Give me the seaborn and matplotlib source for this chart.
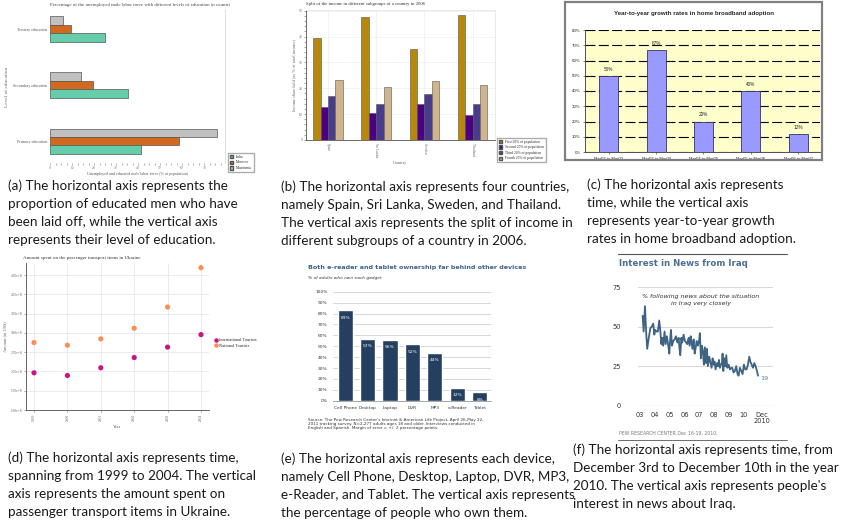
import numpy as np
import pandas as pd
import matplotlib
matplotlib.use("Agg")
import matplotlib.pyplot as plt
import seaborn as sns
from matplotlib.patches import Patch, Rectangle
from matplotlib.lines import Line2D

sns.set_style("white")
plt.rcParams["font.family"] = ["DejaVu Sans"]

W, H = 863, 520

# ---- (a) unemployed educated male labor force
edu_levels = ["Tertiary education", "Secondary education", "Primary education"]
india = [25.0, 35.6, 41.2]
morocco = [9.4, 19.4, 58.8]
mauritania = [5.7, 14.0, 75.8]

# ---- (b) income split
countries = ["Spain", "Sri Lanka", "Sweden", "Thailand"]
income_groups = ["First 20% of population", "Second 20% of population",
                 "Third 20% of population", "Fourth 20% of population"]
first20 = [39.6, 47.4, 35.4, 48.2]
second20 = [12.6, 10.3, 14.0, 9.5]
third20 = [17.1, 14.0, 17.7, 14.0]
fourth20 = [23.1, 20.4, 22.8, 21.1]

# ---- (c) broadband growth
periods = ["Mar02 to Mar03", "Mar03 to Mar04", "Mar04 to Mar05",
           "Mar05 to Mar06", "Mar06 to Mar07"]
growth = [50, 67, 20, 40, 12]

# ---- (d) Ukraine passenger transport
years_d = ["1999", "2000", "2001", "2002", "2003", "2004"]
intl_tourists = [1.965e8, 1.895e8, 2.095e8, 2.36e8, 2.63e8, 2.955e8]
natl_tourists = [2.75e8, 2.68e8, 2.845e8, 3.12e8, 3.67e8, 4.69e8]
d_ticks = [1.0e8, 1.5e8, 2.0e8, 2.5e8, 3.0e8, 3.5e8, 4.0e8, 4.5e8]
d_ticklabels = ["1.00e+8", "1.50e+8", "2.00e+8", "2.50e+8",
                "3.00e+8", "3.50e+8", "4.00e+8", "4.50e+8"]

# ---- (e) device ownership
devices = ["Cell Phone", "Desktop", "Laptop", "DVR", "MP3", "e-Reader", "Tablet"]
ownership = [83, 57, 56, 52, 44, 12, 8]

# ---- (f) interest in news from Iraq
iraq_time = [2003.18, 2003.25, 2003.34, 2003.43, 2003.49, 2003.58, 2003.70, 2003.79,
             2003.90, 2003.97, 2004.03, 2004.12, 2004.21, 2004.30, 2004.37, 2004.44,
             2004.51, 2004.57, 2004.66, 2004.73, 2004.82, 2004.91, 2004.98, 2005.04,
             2005.09, 2005.16, 2005.25, 2005.34, 2005.43, 2005.52, 2005.61, 2005.67,
             2005.72, 2005.79, 2005.85, 2005.94, 2006.03, 2006.12, 2006.19, 2006.28,
             2006.35, 2006.42, 2006.48, 2006.55, 2006.62, 2006.69, 2006.75, 2006.82,
             2006.91, 2007.00, 2007.04, 2007.11, 2007.18, 2007.25, 2007.31, 2007.38,
             2007.45, 2007.52, 2007.58, 2007.67, 2007.74, 2007.83, 2007.90, 2007.97,
             2008.03, 2008.10, 2008.19, 2008.26, 2008.33, 2008.39, 2008.46, 2008.53,
             2008.57, 2008.62, 2008.69, 2008.75, 2008.82, 2008.89, 2008.98, 2009.07,
             2009.16, 2009.22, 2009.31, 2009.40, 2009.49, 2009.58, 2009.65, 2009.74,
             2009.83, 2009.92, 2010.01, 2010.10, 2010.19, 2010.28, 2010.37, 2010.44,
             2010.53, 2010.62, 2010.71, 2010.80, 2010.89, 2010.96]
iraq_pct = [57, 47, 63, 45, 36, 42, 49, 50, 52, 45, 48, 47, 47, 54, 48, 39,
            43, 38, 47, 39, 44, 38, 33, 42, 48, 38, 41, 42, 44, 40, 43, 36,
            32, 43, 40, 45, 41, 40, 39, 43, 38, 44, 40, 36, 42, 33, 36, 41,
            38, 42, 46, 30, 38, 34, 26, 37, 27, 36, 25, 31, 28, 24, 30, 26,
            28, 23, 27, 25, 29, 24, 26, 27, 33, 22, 30, 25, 32, 24, 26, 23,
            24, 24, 21, 22, 25, 20, 19, 24, 22, 20, 26, 23, 23, 26, 31, 28,
            26, 24, 27, 25, 22, 19]
iraq_years = ["03", "04", "05", "06", "07", "08", "09", "10"]

captions = {
    "a": "(a) The horizontal axis represents the\nproportion of educated men who have\n"
         "been laid off, while the vertical axis\nrepresents their level of education.",
    "b": "(b) The horizontal axis represents four countries,\nnamely Spain, Sri Lanka, Sweden, and Thailand.\n"
         "The vertical axis represents the split of income in\ndifferent subgroups of a country in 2006.",
    "c": "(c) The horizontal axis represents\ntime, while the vertical axis\n"
         "represents year-to-year growth\nrates in home broadband adoption.",
    "d": "(d) The horizontal axis represents time,\nspanning from 1999 to 2004. The vertical\n"
         "axis represents the amount spent on\npassenger transport items in Ukraine.",
    "e": "(e) The horizontal axis represents each device,\nnamely Cell Phone, Desktop, Laptop, DVR, MP3,\n"
         "e-Reader, and Tablet. The vertical axis represents\nthe percentage of people who own them.",
    "f": "(f) The horizontal axis represents time, from\nDecember 3rd to December 10th in the year\n"
         "2010. The vertical axis represents people's\ninterest in news about Iraq.",
}


def box(x0, y0, x1, y1):
    return [x0 / W, 1 - y1 / H, (x1 - x0) / W, (y1 - y0) / H]


fig = plt.figure(figsize=(W / 100, H / 100), dpi=100)


def ftext(x, y, s, **kw):
    fig.text(x / W, 1 - y / H, s, **kw)


serif = ["Liberation Serif", "DejaVu Serif"]
arial = ["Liberation Sans", "DejaVu Sans"]

# ================= (a) =================
teal, orange, silver = "#66CDAA", "#D2691E", "#C0C0C0"
ax = fig.add_axes(box(50, 10, 225, 163))
df_a = pd.DataFrame({
    "level": edu_levels * 3,
    "pct": mauritania + morocco + india,
    "country": ["Mauritania"] * 3 + ["Morocco"] * 3 + ["India"] * 3,
})
sns.barplot(data=df_a, x="pct", y="level", hue="country",
            hue_order=["Mauritania", "Morocco", "India"],
            palette=[silver, orange, teal], orient="h", width=0.45,
            saturation=1, edgecolor="#555555", linewidth=0.5, ax=ax, legend=False)
ax.set_xlim(0, 79.5)
ax.set_ylim(2.39, -0.34)
for s in ["top", "left", "bottom"]:
    ax.spines[s].set_visible(False)
ax.spines["right"].set_color("#e0e0e0")
ax.set_xticks(range(0, 80, 10))
ax.set_xticks(np.arange(0, 80, 2.5), minor=True)
ax.tick_params(axis="x", which="both", labelsize=2.6, length=1.5, width=0.4,
               pad=1, colors="#777777", bottom=True)
ax.tick_params(axis="y", labelsize=3, length=0, pad=2, colors="#555555")
for t in ax.get_xticklabels() + ax.get_yticklabels():
    t.set_family(serif)
ax.set_xlabel("Unemployed and educated male labor force (% of population)",
              fontsize=3, family=serif, color="#555555", labelpad=1)
ax.set_ylabel("Level of education", fontsize=3.8, family=serif, color="#666666",
              labelpad=3)
ftext(50, 5, "Percentage of the unemployed male labor force with different levels of education in countri",
      fontsize=3.5, family=serif, color="#444444", va="center")
fig.legend(handles=[Patch(facecolor=teal, edgecolor="#555"),
                    Patch(facecolor=orange, edgecolor="#555"),
                    Patch(facecolor=silver, edgecolor="#555")],
           labels=["India", "Morocco", "Mauritania"],
           loc="upper left", bbox_to_anchor=(226 / W, 1 - 151 / H),
           frameon=True, fancybox=False, edgecolor="#999999",
           handlelength=1.0, handleheight=1.0, borderpad=0.5, labelspacing=0.5,
           prop={"family": serif, "size": 2.6})

# ================= (b) =================
gold, indigo, slate, tan = "#B8860B", "#4B0082", "#483D8B", "#D2B48C"
ax = fig.add_axes(box(306, 10, 495, 140))
df_b = pd.DataFrame({
    "country": countries * 4,
    "share": first20 + second20 + third20 + fourth20,
    "group": [g for g in income_groups for _ in countries],
})
sns.barplot(data=df_b, x="country", y="share", hue="group",
            hue_order=income_groups, palette=[gold, indigo, slate, tan],
            saturation=1, width=0.61, edgecolor="#555555", linewidth=0.4,
            ax=ax, legend=False)
ax.set_xlim(-0.456, 3.466)
ax.set_ylim(0, 50.3)
ax.set_yticks(range(0, 51, 10))
ax.set_yticks(range(0, 51, 2), minor=True)
ax.grid(axis="both", color="#eeeeee", lw=0.5)
ax.set_axisbelow(True)
for s in ["top", "right"]:
    ax.spines[s].set_color("#e6e6e6")
    ax.spines[s].set_linewidth(0.6)
for s in ["left", "bottom"]:
    ax.spines[s].set_color("#555555")
    ax.spines[s].set_linewidth(0.6)
ax.tick_params(axis="y", which="both", labelsize=2.6, length=1.5, width=0.4,
               pad=1, colors="#666666", left=True)
ax.tick_params(axis="x", labelsize=2.6, length=0, pad=2, colors="#666666",
               labelrotation=-90)
for t in ax.get_xticklabels() + ax.get_yticklabels():
    t.set_family(serif)
ax.set_xlabel("Country", fontsize=3.2, family=serif, color="#666666", labelpad=3)
ax.set_ylabel("Income share held (as % of total income)", fontsize=3.2,
              family=serif, color="#666666", labelpad=2)
ftext(306, 4, "Split of the income in different subgroups of a country in 2006",
      fontsize=3.4, family=serif, color="#333333", va="center")
fig.legend(handles=[Patch(facecolor=c, edgecolor="#555") for c in [gold, indigo, slate, tan]],
           labels=income_groups, loc="upper left",
           bbox_to_anchor=(495 / W, 1 - 136 / H), frameon=True, fancybox=False,
           edgecolor="#999999", handlelength=1.0, handleheight=1.0,
           borderpad=0.5, labelspacing=0.45, prop={"family": serif, "size": 2.6})

# ================= (c) =================
fig.patches.append(Rectangle((565 / W, 1 - 160 / H), 257 / W, 158 / H,
                             transform=fig.transFigure, fill=False,
                             edgecolor="#808080", lw=1.6))
ax = fig.add_axes(box(585, 30, 820, 152))
ax.set_facecolor("#FFFFCC")
df_c = pd.DataFrame({"period": periods, "growth": growth})
sns.barplot(data=df_c, x="period", y="growth", color="#9999FF", width=0.4,
            edgecolor="#333366", linewidth=0.6, saturation=1, ax=ax)
ax.set_xlim(-0.5, 4.46)
ax.set_ylim(0, 80)
ax.set_yticks(range(0, 81, 10))
ax.set_yticklabels([f"{v}%" for v in range(0, 81, 10)])
ax.grid(axis="y", color="black", lw=0.8, linestyle=(0, (9, 3)))
ax.set_axisbelow(True)
for s in ["top", "right"]:
    ax.spines[s].set_visible(False)
for s in ["left", "bottom"]:
    ax.spines[s].set_color("#333333")
    ax.spines[s].set_linewidth(0.6)
ax.tick_params(axis="y", labelsize=3.2, length=1.5, width=0.4, pad=1.5, left=True)
ax.tick_params(axis="x", labelsize=3.0, length=1.5, width=0.4, pad=2, bottom=True)
for t in ax.get_xticklabels() + ax.get_yticklabels():
    t.set_family(arial)
ax.set_xlabel("")
ax.set_ylabel("")
ax.bar_label(ax.containers[0], labels=[f"{v}%" for v in growth], padding=3,
             fontsize=3.4, family=arial)
ftext(694, 13, "Year-to-year growth rates in home broadband adoption",
      fontsize=4.4, family=arial, weight="bold", ha="center", va="center")

# ================= (d) =================
magenta, coral = "#C71585", "#FF8C55"
ax = fig.add_axes(box(26, 262.7, 209, 410))
df_d = pd.DataFrame({
    "year": years_d * 2,
    "amount": intl_tourists + natl_tourists,
    "kind": ["International Tourists"] * 6 + ["National Tourists"] * 6,
})
df_d["xpos"] = df_d["year"].map({y: i for i, y in enumerate(years_d)})
sns.scatterplot(data=df_d, x="xpos", y="amount", hue="kind",
                palette=[magenta, coral], s=14, linewidth=0, ax=ax, legend=False)
ax.set_xlim(-0.24, 5.24)
ax.set_ylim(1.0e8, 4.82e8)
ax.set_xticks(range(6))
ax.set_xticklabels(years_d)
ax.set_yticks(d_ticks)
ax.set_yticklabels(d_ticklabels)
ax.grid(color="#e8e8e8", lw=0.6)
for s in ["top", "right"]:
    ax.spines[s].set_visible(False)
for s in ["left", "bottom"]:
    ax.spines[s].set_color("#666666")
    ax.spines[s].set_linewidth(0.7)
ax.tick_params(axis="y", labelsize=2.6, length=1.5, width=0.4, pad=1,
               colors="#666666", left=True)
ax.tick_params(axis="x", labelsize=2.6, length=1.5, width=0.4, pad=1,
               colors="#666666", bottom=True, labelrotation=90)
for t in ax.get_xticklabels() + ax.get_yticklabels():
    t.set_family(serif)
ax.set_xlabel("Year", fontsize=3.2, family=serif, color="#666666", labelpad=3)
ax.set_ylabel("Amount (in US$)", fontsize=3.2, family=serif, color="#666666",
              labelpad=3)
ftext(23, 258, "Amount spent on the passenger transport items in Ukraine",
      fontsize=3.6, family=serif, color="#333333", va="center")
fig.legend(handles=[Line2D([], [], marker="o", ls="", color=magenta, ms=2.2),
                    Line2D([], [], marker="o", ls="", color=coral, ms=2.2)],
           labels=["International Tourists", "National Tourists"],
           loc="upper left", bbox_to_anchor=(210 / W, 1 - 334 / H),
           frameon=False, handlelength=0.8, handletextpad=0.3,
           labelspacing=0.4, prop={"family": serif, "size": 3.2})

# ================= (e) =================
navy = "#243F60"
ax = fig.add_axes(box(333, 291.7, 491, 400.7))
df_e = pd.DataFrame({"device": devices, "own": ownership})
sns.barplot(data=df_e, x="device", y="own", color=navy, saturation=1,
            width=0.67, ax=ax)
ax.set_xlim(-0.54, 6.5)
ax.set_ylim(0, 100)
ax.set_yticks(range(0, 101, 10))
ax.set_yticklabels([f"{v}%" for v in range(0, 101, 10)])
ax.grid(axis="y", color="#c8c8c8", lw=0.5)
ax.set_axisbelow(True)
for s in ["top", "right", "left"]:
    ax.spines[s].set_visible(False)
ax.spines["bottom"].set_color("#999999")
ax.spines["bottom"].set_linewidth(0.6)
ax.tick_params(axis="y", labelsize=3.2, length=0, pad=4, colors="#333333")
ax.tick_params(axis="x", labelsize=3.2, length=0, pad=4, colors="#333333")
ax.set_xlabel("")
ax.set_ylabel("")
ax.bar_label(ax.containers[0], labels=[f"{v}%" for v in ownership],
             label_type="edge", padding=-7, color="white", fontsize=3.2)
ftext(308, 268, "Both e-reader and tablet ownership far behind other devices",
      fontsize=4.6, weight="bold", color="#3F6289", va="center")
ftext(308, 278, "% of adults who own each gadget", fontsize=3.2, style="italic",
      color="#333333", va="center")
ftext(308, 424, "Source: The Pew Research Center's Internet & American Life Project, April 26-May 22,\n"
      "2011 tracking survey. N=2,277 adults ages 18 and older. Interviews conducted in\n"
      "English and Spanish. Margin of error = +/- 2 percentage points.",
      fontsize=3.0, color="#333333", va="center", linespacing=1.1)

# ================= (f) =================
steel = "#3E6383"
fig.add_artist(Line2D([618 / W, 787 / W], [1 - 254 / H, 1 - 254 / H],
                      color="#555555", lw=0.8))
fig.add_artist(Line2D([618 / W, 787 / W], [1 - 440 / H, 1 - 440 / H],
                      color="#555555", lw=0.6))
ax = fig.add_axes(box(638, 287.3, 773, 405.7))
sns.lineplot(x=iraq_time, y=iraq_pct, color=steel, lw=1.3, ax=ax)
ax.set_xlim(2002.87, 2011.97)
ax.set_ylim(0, 75)
ax.set_yticks([0, 25, 50, 75])
ax.set_xticks([2003 + i for i in range(8)] + [2011.2])
ax.set_xticklabels(iraq_years + ["Dec\n2010"], linespacing=0.95)
ax.grid(axis="y", color="#d9d9d9", lw=0.8)
ax.set_axisbelow(True)
for s in ["top", "right", "left", "bottom"]:
    ax.spines[s].set_visible(False)
ax.axhline(0, color="#bbbbbb", lw=0.8)
ax.tick_params(axis="both", labelsize=4.8, length=0, colors="#333333")
ax.tick_params(axis="y", pad=12)
ax.tick_params(axis="x", pad=4.5)
for lab in ax.get_xticklabels():
    lab.set_va("top")
ax.text(2011.1, iraq_pct[-1] - 2, str(iraq_pct[-1]), color="#5B7FA6",
        fontsize=4.6, va="center", ha="left")
ax.text(2007.1, 67, "% following news about the situation\nin Iraq very closely",
        fontsize=4.6, style="italic", ha="center", va="center", color="#333333",
        linespacing=1.3)
ftext(619, 264, "Interest in News from Iraq", fontsize=6.2, weight="bold",
      color="#4D6F92", va="center")
ftext(619, 433, "PEW RESEARCH CENTER Dec 16-19, 2010.", fontsize=3.3,
      color="#777777", va="center")

# ================= captions =================
cap_font = ["Lato", "DejaVu Sans"]
cap_pos = {"a": (8, 179), "b": (281, 180), "c": (587, 178),
           "d": (8, 451), "e": (281, 452), "f": (573, 443)}
for key, (cx, cy) in cap_pos.items():
    ftext(cx, cy, captions[key], fontsize=9.7, family=cap_font, color="#1a1a1a",
          va="top", ha="left", linespacing=1.6)

fig.savefig("out.png", dpi=100)
